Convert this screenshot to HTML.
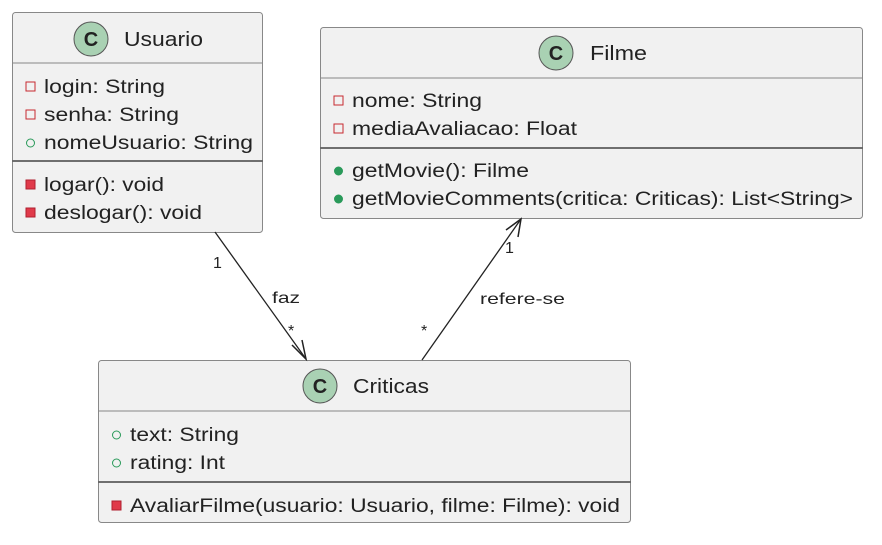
<!DOCTYPE html>
<html><head><style>body{margin:0;background:#fff}svg{display:block}text{font-family:"Liberation Sans",sans-serif;fill:#222}</style></head><body>
<svg width="882" height="545" xmlns="http://www.w3.org/2000/svg">
<defs><style>.b{fill:#f1f1f1;stroke:#888;stroke-width:1}.s{stroke:#222;stroke-width:1.3}.t{font-size:19px}</style></defs>
<!-- Usuario -->
<rect class="b" x="12.5" y="12.5" width="250" height="220" rx="3"/>
<line x1="12.5" y1="63" x2="262.5" y2="63" stroke="#888"/>
<line class="s" x1="12.5" y1="161" x2="262.5" y2="161"/>
<circle cx="91" cy="39" r="17" fill="#a9d1b3" stroke="#555"/>
<text x="91" y="46" text-anchor="middle" font-size="20" font-weight="bold">C</text>
<text x="124" y="46" font-size="20" textLength="79" lengthAdjust="spacingAndGlyphs">Usuario</text>
<rect x="26" y="82" width="9" height="9" fill="none" stroke="#c82930"/>
<text class="t" x="44" y="93" textLength="121" lengthAdjust="spacingAndGlyphs">login: String</text>
<rect x="26" y="110" width="9" height="9" fill="none" stroke="#c82930"/>
<text class="t" x="44" y="121" textLength="135" lengthAdjust="spacingAndGlyphs">senha: String</text>
<circle cx="30.5" cy="143" r="4" fill="none" stroke="#2a9a5a"/>
<text class="t" x="44" y="149" textLength="209" lengthAdjust="spacingAndGlyphs">nomeUsuario: String</text>
<rect x="26" y="180" width="9" height="9" fill="#e03a4a" stroke="#b02030"/>
<text class="t" x="44" y="191" textLength="120" lengthAdjust="spacingAndGlyphs">logar(): void</text>
<rect x="26" y="208" width="9" height="9" fill="#e03a4a" stroke="#b02030"/>
<text class="t" x="44" y="219" textLength="158" lengthAdjust="spacingAndGlyphs">deslogar(): void</text>
<!-- Filme -->
<rect class="b" x="320.5" y="27.5" width="542" height="191" rx="3"/>
<line x1="320.5" y1="78" x2="862.5" y2="78" stroke="#888"/>
<line class="s" x1="320.5" y1="148" x2="862.5" y2="148"/>
<circle cx="556" cy="53" r="17" fill="#a9d1b3" stroke="#555"/>
<text x="556" y="60" text-anchor="middle" font-size="20" font-weight="bold">C</text>
<text x="590" y="60" font-size="20" textLength="57" lengthAdjust="spacingAndGlyphs">Filme</text>
<rect x="334" y="96" width="9" height="9" fill="none" stroke="#c82930"/>
<text class="t" x="352" y="107" textLength="130" lengthAdjust="spacingAndGlyphs">nome: String</text>
<rect x="334" y="124" width="9" height="9" fill="none" stroke="#c82930"/>
<text class="t" x="352" y="135" textLength="225" lengthAdjust="spacingAndGlyphs">mediaAvaliacao: Float</text>
<circle cx="338.5" cy="171" r="4" fill="#2a9a5a" stroke="#2a9a5a"/>
<text class="t" x="352" y="177" textLength="177" lengthAdjust="spacingAndGlyphs">getMovie(): Filme</text>
<circle cx="338.5" cy="199" r="4" fill="#2a9a5a" stroke="#2a9a5a"/>
<text class="t" x="352" y="205" textLength="501" lengthAdjust="spacingAndGlyphs">getMovieComments(critica: Criticas): List&lt;String&gt;</text>
<!-- Criticas -->
<rect class="b" x="98.5" y="360.5" width="532" height="162" rx="3"/>
<line x1="98.5" y1="411" x2="630.5" y2="411" stroke="#888"/>
<line class="s" x1="98.5" y1="482" x2="630.5" y2="482"/>
<circle cx="320" cy="386" r="17" fill="#a9d1b3" stroke="#555"/>
<text x="320" y="393" text-anchor="middle" font-size="20" font-weight="bold">C</text>
<text x="353" y="393" font-size="20" textLength="76" lengthAdjust="spacingAndGlyphs">Criticas</text>
<circle cx="116.5" cy="435" r="4" fill="none" stroke="#2a9a5a"/>
<text class="t" x="130" y="441" textLength="109" lengthAdjust="spacingAndGlyphs">text: String</text>
<circle cx="116.5" cy="463" r="4" fill="none" stroke="#2a9a5a"/>
<text class="t" x="130" y="469" textLength="95" lengthAdjust="spacingAndGlyphs">rating: Int</text>
<rect x="112" y="501" width="9" height="9" fill="#e03a4a" stroke="#b02030"/>
<text class="t" x="130" y="512" textLength="490" lengthAdjust="spacingAndGlyphs">AvaliarFilme(usuario: Usuario, filme: Filme): void</text>
<!-- connectors -->
<line x1="215" y1="232" x2="306" y2="359" stroke="#222" stroke-width="1.3"/>
<path d="M292,345 L306,359 L302,340" fill="none" stroke="#222" stroke-width="1.5"/>
<text x="213" y="268" font-size="16">1</text>
<text x="272" y="303" font-size="16" textLength="28" lengthAdjust="spacingAndGlyphs">faz</text>
<text x="288" y="336" font-size="16">*</text>
<line x1="422" y1="360" x2="521" y2="219" stroke="#222" stroke-width="1.3"/>
<path d="M506,230 L521,219 L518,237" fill="none" stroke="#222" stroke-width="1.5"/>
<text x="505" y="253" font-size="16">1</text>
<text x="480" y="304" font-size="16" textLength="85" lengthAdjust="spacingAndGlyphs">refere-se</text>
<text x="421" y="336" font-size="16">*</text>
</svg>
</body></html>
